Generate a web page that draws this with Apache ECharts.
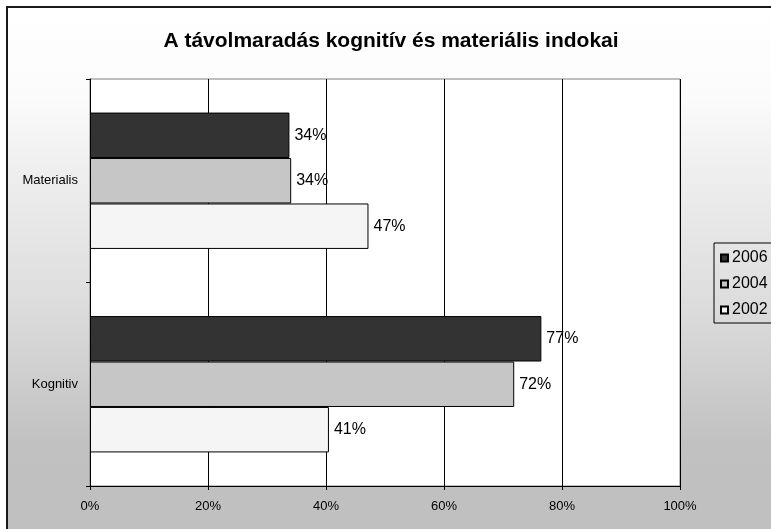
<!DOCTYPE html>
<html>
<head>
<meta charset="utf-8">
<script src="https://cdn.jsdelivr.net/npm/echarts@6/dist/echarts.min.js"></script>
<style>html,body{margin:0;padding:0;background:#fff;}#c{width:771px;height:529px;}</style>
</head>
<body>
<div id="c"></div>
<script>
const title = 'A távolmaradás kognitív és materiális indokai';
const categories = ['Kognitiv', 'Materialis'];
const years = ['2006', '2004', '2002'];
const values2002 = [40.5, 47.2];
const values2004 = [71.9, 34.1];
const values2006 = [76.5, 33.8];
const xTicks = [0, 20, 40, 60, 80, 100];
const colors = {'2002': '#f5f5f5', '2004': '#c6c6c6', '2006': '#333333'};
const seriesValues = {'2002': values2002, '2004': values2004, '2006': values2006};

const FONT = 'Liberation Sans, Arial, sans-serif';
const chart = echarts.init(document.getElementById('c'), null, {renderer: 'canvas'});
const option = {
  backgroundColor: '#ffffff',
  animation: false,
  title: {
    text: title, left: 386, textAlign: 'center', top: 26,
    textStyle: {fontFamily: FONT, fontSize: 21, fontWeight: 'bold', color: '#000'}
  },
  graphic: [{
    type: 'rect', z: -10, silent: true,
    shape: {x: 7, y: 7, width: 800, height: 600},
    style: {
      fill: new echarts.graphic.LinearGradient(0, 0, 0, 1, [
        {offset: 0, color: '#ffffff'},
        {offset: 0.155, color: '#fbfbfb'},
        {offset: 0.255, color: '#f0f0f0'},
        {offset: 0.49, color: '#dddddd'},
        {offset: 0.72, color: '#c2c2c2'},
        {offset: 0.76, color: '#c0c0c0'},
        {offset: 1, color: '#c0c0c0'}
      ]),
      stroke: '#1a1a1a', lineWidth: 2
    }
  }],
  legend: {
    orient: 'vertical', left: 714, top: 243,
    data: ['2006', '2004', '2002'],
    icon: 'rect', itemWidth: 7, itemHeight: 7, itemGap: 10, padding: [7, 20, 5, 6],
    borderColor: '#000', borderWidth: 1, backgroundColor: 'transparent',
    textStyle: {fontFamily: FONT, fontSize: 16, color: '#000', padding: [0, 0, 0, -1]}
  },
  grid: {
    left: 90, top: 79, width: 590, height: 407,
    show: true, backgroundColor: '#ffffff', borderColor: '#808080', borderWidth: 1
  },
  xAxis: {
    type: 'value', min: xTicks[0], max: xTicks[xTicks.length - 1], interval: 20,
    axisLine: {show: true, lineStyle: {color: '#000', width: 1}},
    axisTick: {show: true, length: 4, lineStyle: {color: '#000'}},
    axisLabel: {formatter: '{value}%', fontFamily: FONT, fontSize: 13, color: '#000', margin: 14},
    splitLine: {show: true, lineStyle: {color: '#000', width: 1}}
  },
  yAxis: {
    type: 'category', data: categories,
    axisLine: {show: true, lineStyle: {color: '#000', width: 1}},
    axisTick: {show: true, length: 4, lineStyle: {color: '#000'}},
    axisLabel: {fontFamily: FONT, fontSize: 13, color: '#000', margin: 12},
    splitLine: {show: false}
  },
  series: years.map(y => ({
    name: y, type: 'bar', data: seriesValues[y],
    barGap: '0%', barCategoryGap: '33%',
    itemStyle: {color: colors[y], borderColor: '#000', borderWidth: 1},
    label: {
      show: true, position: 'right', distance: 5,
      formatter: p => Math.round(p.value) + '%',
      fontFamily: FONT, fontSize: 16, color: '#000'
    }
  }))
};
chart.setOption(option);
</script>
</body>
</html>
